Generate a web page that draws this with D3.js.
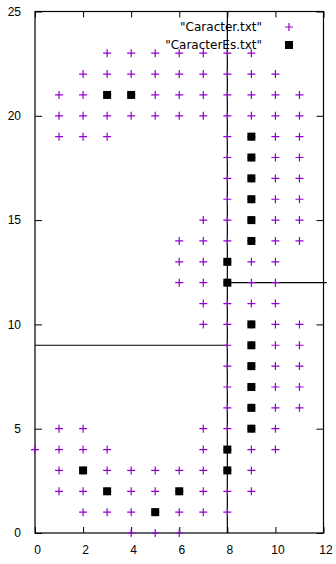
<!DOCTYPE html>
<html>
<head>
<meta charset="utf-8">
<script src="https://cdn.jsdelivr.net/npm/d3@7"></script>
<style>
  body { margin: 0; background: #fff; }
  svg { display: block; font-family: "DejaVu Sans", Verdana, sans-serif; }
  .axis path { display: none; }
  .axis line { stroke: #000; }
  .axis text { fill: #000; font-size: 12px; }
</style>
</head>
<body>
<svg id="chart"></svg>
<script>
// "Caracter.txt" points, listed row by row (y, then the x values in that row)
const caracterRows = [
  [24, []],
  [23, [3, 4, 5, 6, 7, 8, 9]],
  [22, [2, 3, 4, 5, 6, 7, 8, 9, 10]],
  [21, [1, 2, 3, 4, 5, 6, 7, 8, 9, 10, 11]],
  [20, [1, 2, 3, 4, 5, 6, 7, 8, 9, 10, 11]],
  [19, [1, 2, 3, 8, 9, 10, 11]],
  [18, [8, 9, 10, 11]],
  [17, [8, 9, 10, 11]],
  [16, [8, 9, 10, 11]],
  [15, [7, 8, 9, 10, 11]],
  [14, [6, 7, 8, 9, 10, 11]],
  [13, [6, 7, 8, 9, 10]],
  [12, [6, 7, 8, 9, 10]],
  [11, [7, 8, 9, 10]],
  [10, [7, 8, 9, 10, 11]],
  [9, [8, 9, 10, 11]],
  [8, [8, 9, 10, 11]],
  [7, [8, 9, 10, 11]],
  [6, [8, 9, 10, 11]],
  [5, [1, 2, 7, 8, 9, 10]],
  [4, [0, 1, 2, 3, 7, 8, 9, 10]],
  [3, [1, 2, 3, 4, 5, 6, 7, 8, 9]],
  [2, [1, 2, 3, 4, 5, 6, 7, 8, 9]],
  [1, [2, 3, 4, 5, 6, 7, 8]],
  [0, [4, 5, 6]]
];

// "CaracterEs.txt" points
const caracterEs = [
  [3, 21], [4, 21], [9, 19], [9, 18], [9, 17], [9, 16], [9, 15], [9, 14],
  [8, 13], [8, 12], [9, 10], [9, 9], [9, 8], [9, 7], [9, 6], [9, 5],
  [8, 4], [8, 3], [6, 2], [3, 2], [2, 3], [5, 1]
];

// separating lines [x1, y1, x2, y2]
const segments = [
  [8, 0, 8, 25],
  [0, 9, 8, 9],
  [8, 12, 12.13, 12]
];

const xTicks = [0, 2, 4, 6, 8, 10, 12];
const yTicks = [0, 5, 10, 15, 20, 25];
const legendLabels = ['"Caracter.txt"', '"CaracterEs.txt"'];

const width = 336, height = 564;
const margin = { top: 11.5, right: 12.5, bottom: 31, left: 35 };

const svg = d3.select('#chart').attr('width', width).attr('height', height);

const x = d3.scaleLinear().domain([0, 12]).range([margin.left, width - margin.right]);
const y = d3.scaleLinear().domain([0, 25]).range([height - margin.bottom, margin.top]);

const purple = '#9400d3';

const caracter = caracterRows.flatMap(([yy, xs]) => xs.map(xx => [xx, yy]));

// axes, ticks pointing inward like gnuplot
svg.append('g').attr('class', 'axis')
  .attr('transform', `translate(0,${y(0)})`)
  .call(d3.axisBottom(x).tickValues(xTicks).tickSizeInner(-6).tickPadding(12).tickFormat(d3.format('d')))
  .selectAll('text').attr('dx', 2);

svg.append('g').attr('class', 'axis')
  .attr('transform', `translate(${x(0)},0)`)
  .call(d3.axisLeft(y).tickValues(yTicks).tickSizeInner(-7).tickPadding(14).tickFormat(d3.format('d')));

svg.append('g').attr('class', 'axis')
  .attr('transform', `translate(0,${y(25)})`)
  .call(d3.axisTop(x).tickValues(xTicks).tickSizeInner(-6).tickFormat(''));

svg.append('g').attr('class', 'axis')
  .attr('transform', `translate(${x(12)},0)`)
  .call(d3.axisRight(y).tickValues(yTicks).tickSizeInner(-7).tickFormat(''));

// frame
svg.append('rect')
  .attr('x', x(0)).attr('y', y(25))
  .attr('width', x(12) - x(0)).attr('height', y(0) - y(25))
  .attr('fill', 'none').attr('stroke', '#000').attr('stroke-width', 1.2);

// separating lines
svg.append('g').selectAll('line')
  .data(segments)
  .join('line')
  .attr('x1', d => x(d[0])).attr('y1', d => y(d[1]))
  .attr('x2', d => x(d[2])).attr('y2', d => y(d[3]))
  .attr('stroke', '#000').attr('stroke-width', 1.2);

const plus = (sel, s) => sel.append('path')
  .attr('d', `M${-s},0H${s}M0,${-s}V${s}`)
  .attr('stroke', purple).attr('stroke-width', 1.2).attr('fill', 'none');

// Caracter.txt: plus marks
svg.append('g').selectAll('g')
  .data(caracter)
  .join('g')
  .attr('transform', d => `translate(${x(d[0])},${y(d[1])})`)
  .call(plus, 4);

// CaracterEs.txt: filled squares
svg.append('g').selectAll('rect')
  .data(caracterEs)
  .join('rect')
  .attr('x', d => x(d[0]) - 4).attr('y', d => y(d[1]) - 4)
  .attr('width', 8).attr('height', 8)
  .attr('fill', '#000');

// legend
const legend = svg.append('g');
legendLabels.forEach((label, i) => {
  const ly = 27 + i * 18;
  legend.append('text')
    .attr('x', 262).attr('y', ly).attr('dy', '0.35em')
    .attr('text-anchor', 'end').attr('font-size', 12).attr('fill', '#000')
    .text(label);
  const key = legend.append('g').attr('transform', `translate(289,${ly})`);
  if (i === 0) key.call(plus, 4);
  else key.append('rect').attr('x', -4).attr('y', -4).attr('width', 8).attr('height', 8).attr('fill', '#000');
});
</script>
</body>
</html>
